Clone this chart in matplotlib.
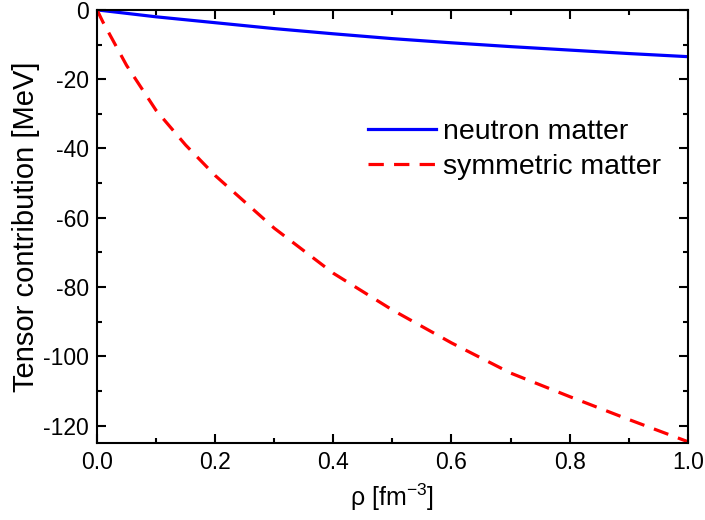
import matplotlib
matplotlib.use("Agg")
import matplotlib.pyplot as plt
from matplotlib.ticker import MultipleLocator

plt.rcParams["font.family"] = "Liberation Sans"
plt.rcParams["mathtext.fontset"] = "custom"
plt.rcParams["mathtext.rm"] = "Liberation Sans"

# densidade [fm^-3] e contribuição tensorial [MeV]
rho_neutron = [0.0, 0.1, 0.2, 0.3, 0.4, 0.5, 0.6, 0.7, 0.8, 0.9, 1.0]
e_neutron = [0.0, -2.0, -3.7, -5.4, -6.9, -8.3, -9.5, -10.6, -11.6, -12.6, -13.5]

rho_sym = [0.0, 0.01, 0.05, 0.1, 0.15, 0.2, 0.3, 0.4, 0.5, 0.6, 0.7, 0.8, 0.9, 1.0]
e_sym = [0.0, -3.5, -16.0, -29.0, -39.0, -47.8, -63.0, -76.0, -86.6, -96.1,
         -104.8, -111.6, -118.2, -124.6]

fig = plt.figure(figsize=(7.05, 5.2), dpi=100)
ax = fig.add_axes([0.1376, 0.148, 0.838, 0.833])

ax.plot(rho_neutron, e_neutron, color="#0000FF", linewidth=2.3, label="neutron matter")
ax.plot(rho_sym, e_sym, color="#FF0000", linewidth=2.3, dashes=(4.8, 3.2),
        label="symmetric matter")

ax.set_xlim(0, 1.0)
ax.set_ylim(-125, 0)
ax.xaxis.set_major_locator(MultipleLocator(0.2))
ax.xaxis.set_minor_locator(MultipleLocator(0.1))
ax.yaxis.set_major_locator(MultipleLocator(20))
ax.yaxis.set_minor_locator(MultipleLocator(10))
ax.xaxis.set_major_formatter(plt.FormatStrFormatter("%.1f"))
ax.yaxis.set_major_formatter(plt.FormatStrFormatter("%d"))

ax.tick_params(which="both", direction="in", top=True, right=True, width=1.5,
               labelsize=16.5)
ax.tick_params(which="major", length=6.5, pad=6)
ax.tick_params(which="minor", length=3.6)
for s in ax.spines.values():
    s.set_linewidth(1.5)

ax.set_xlabel(r"ρ [fm$^{\mathregular{-3}}$]", fontsize=18, labelpad=5)
ax.set_ylabel("Tensor contribution [MeV]", fontsize=21, labelpad=2)

ax.legend(loc="upper left", bbox_to_anchor=(0.4585, 0.748), frameon=False,
          fontsize=20.5, handlelength=2.4, handletextpad=0.25, labelspacing=0.3,
          borderpad=0, borderaxespad=0)

fig.savefig("out.png", dpi=100)
